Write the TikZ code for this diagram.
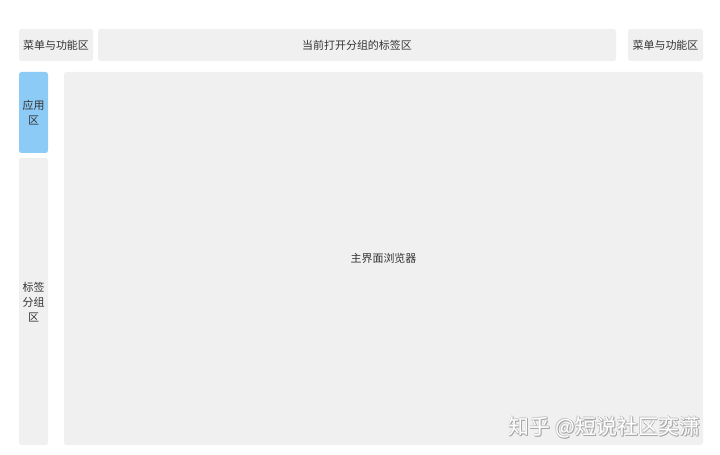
\documentclass[tikz,border=0pt]{standalone}
\usepackage{fontspec}
\setmainfont{Noto Sans CJK SC}
\newfontfamily\cjk{Noto Sans CJK SC}
\definecolor{panel}{HTML}{F0F0F0}
\definecolor{appblue}{HTML}{8CCBF5}
\definecolor{txt}{HTML}{333333}
\definecolor{wmshadow}{HTML}{A8A8A8}
\begin{document}
\begin{tikzpicture}[x=1bp,y=-1bp,
  panelbox/.style={fill=panel,draw=none,rounded corners=2.5bp},
  lbl/.style={text=txt,font=\cjk\fontsize{11}{15}\selectfont,align=center,inner sep=0pt},
  wm/.style={font=\cjk\fontsize{21}{24}\selectfont,inner sep=0pt,anchor=east}]
\useasboundingbox[fill=white] (0,0) rectangle (720,455);
\path[panelbox] (19,29) rectangle (93,61);
\path[panelbox] (98,29) rectangle (616,61);
\path[panelbox] (628,29) rectangle (703,61);
\path[fill=appblue,rounded corners=2.5bp] (19,72) rectangle (48,153);
\path[panelbox] (19,158) rectangle (48,445);
\path[panelbox] (64,72) rectangle (703,445);
\node[lbl] (menuL) at (56,45) {菜单与功能区};
\node[lbl] (tabs) at (357,45) {当前打开分组的标签区};
\node[lbl] (menuR) at (665.5,45) {菜单与功能区};
\node[lbl] (app) at (33.5,112.5) {应用\\区};
\node[lbl] (grp) at (33.5,302) {标签\\分组\\区};
\node[lbl] (main) at (383.5,258.5) {主界面浏览器};
\node[wm,text=wmshadow] (wms1) at (701.9,427.9) {知乎 @短说社区奕潇};
\node[wm,text=wmshadow] (wms2) at (701.9,427) {知乎 @短说社区奕潇};
\node[wm,text=wmshadow] (wms3) at (701,427.9) {知乎 @短说社区奕潇};
\node[wm,text=wmshadow!60] (wms4) at (700.4,426.4) {知乎 @短说社区奕潇};
\node[wm,text=white] (wmt) at (701,427) {知乎 @短说社区奕潇};
\end{tikzpicture}
\end{document}
